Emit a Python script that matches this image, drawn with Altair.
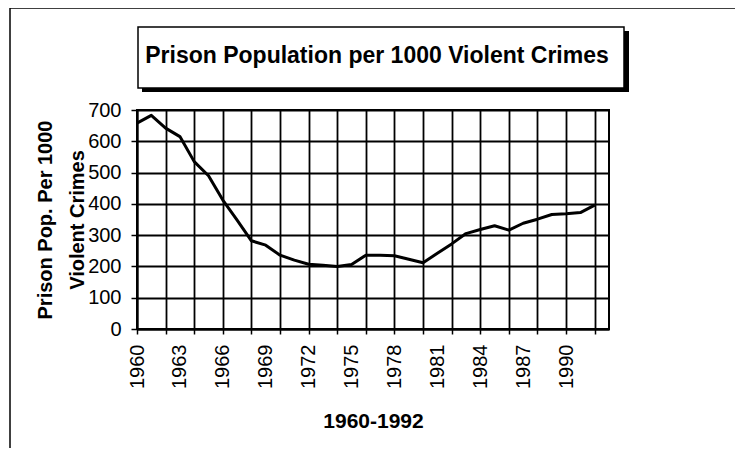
import altair as alt
import pandas as pd

FONT = "Liberation Sans"

# ---- data ----
years = [1960, 1961, 1962, 1963, 1964, 1965, 1966, 1967, 1968, 1969,
         1970, 1971, 1972, 1973, 1974, 1975, 1976, 1977, 1978, 1979,
         1980, 1981, 1982, 1983, 1984, 1985, 1986, 1987, 1988, 1989,
         1990, 1991, 1992]
prison_per_1000 = [658, 683, 642, 615, 535, 490, 412, 348, 282, 268,
                   236, 220, 207, 204, 200, 206, 236, 236, 234, 223,
                   212, 242, 272, 305, 318, 330, 316, 338, 351, 366,
                   368, 372, 396]

grid_years = [1960, 1962, 1964, 1966, 1968, 1970, 1972, 1974, 1976, 1978,
              1980, 1982, 1984, 1986, 1988, 1990, 1992]
label_years = [1960, 1963, 1966, 1969, 1972, 1975, 1978, 1981, 1984, 1987, 1990]
y_ticks = [0, 100, 200, 300, 400, 500, 600, 700]

title_text = "Prison Population per 1000 Violent Crimes"
y_title = ["Prison Pop. Per 1000", "Violent Crimes"]
x_title = "1960-1992"

df = pd.DataFrame({"year": years, "value": prison_per_1000})
one = pd.DataFrame({"k": [0]})

axis_values = sorted(set(grid_years) | set(label_years))
grid_test = " || ".join(f"datum.value === {v}" for v in grid_years)
label_test = " || ".join(f"datum.value === {v}" for v in label_years)
grid_cond = {"condition": {"test": grid_test, "value": 1}, "value": 0}

x_enc = alt.X(
    "year:Q",
    scale=alt.Scale(domain=[1960, 1993], nice=False, zero=False),
    axis=alt.Axis(
        values=axis_values,
        format="d",
        labelExpr=f"({label_test}) ? datum.label : ''",
        labelAngle=270,
        labelFontSize=20,
        labelFont=FONT,
        labelColor="black",
        labelPadding=10,
        labelOverlap=False,
        labelFlush=False,
        tickSize=5,
        tickColor="black",
        tickWidth=1.5,
        tickOpacity=grid_cond,
        grid=True,
        gridColor="black",
        gridWidth=1.8,
        gridOpacity=grid_cond,
        domainColor="black",
        domainWidth=2,
        title=x_title,
        titleFont=FONT,
        titleFontSize=21,
        titleFontWeight="bold",
        titleColor="black",
        titleX=236,
        titleY=98,
        titleAlign="center",
        titleBaseline="alphabetic",
    ),
)

y_enc = alt.Y(
    "value:Q",
    scale=alt.Scale(domain=[0, 700], nice=False),
    axis=alt.Axis(
        values=y_ticks,
        labelFontSize=20,
        labelFont=FONT,
        labelColor="black",
        labelPadding=10,
        tickSize=6,
        tickColor="black",
        tickWidth=1.5,
        grid=True,
        gridColor="black",
        gridWidth=1.8,
        domainColor="black",
        domainWidth=2,
        title=y_title,
        titleFont=FONT,
        titleFontSize=20,
        titleFontWeight="bold",
        titleColor="black",
        titleLineHeight=32,
        titleAngle=270,
        titleX=-92,
        titleY=109.5,
        titleAlign="center",
        titleBaseline="middle",
    ),
)

line = alt.Chart(df).mark_line(color="black", strokeWidth=3, strokeJoin="round").encode(x=x_enc, y=y_enc)

frame_left = alt.Chart(one).mark_rule(color="black", strokeWidth=1.5).encode(
    x=alt.value(-127), y=alt.value(-102), y2=alt.value(360))
frame_top = alt.Chart(one).mark_rule(color="black", strokeWidth=1.5).encode(
    x=alt.value(-127), x2=alt.value(620), y=alt.value(-102))

shadow = alt.Chart(one).mark_rect(color="black").encode(
    x=alt.value(5), x2=alt.value(492), y=alt.value(-79), y2=alt.value(-18))
box = alt.Chart(one).mark_rect(fill="white", stroke="black", strokeWidth=1.5).encode(
    x=alt.value(1), x2=alt.value(487), y=alt.value(-83), y2=alt.value(-22))
title = alt.Chart(one).mark_text(
    font=FONT, fontSize=23, fontWeight="bold", color="black", align="center", baseline="alphabetic"
).encode(x=alt.value(240), y=alt.value(-47), text=alt.value(title_text))

chart = alt.layer(line, frame_left, frame_top, shadow, box, title).properties(
    width=472,
    height=219,
    autosize=alt.AutoSizeParams(type="none"),
    padding={"left": 129, "top": 102, "right": 126, "bottom": 119},
    background="white",
).configure_view(stroke="black", strokeWidth=2)

chart.save("out.html", embed_options={"renderer": "svg", "actions": False})
